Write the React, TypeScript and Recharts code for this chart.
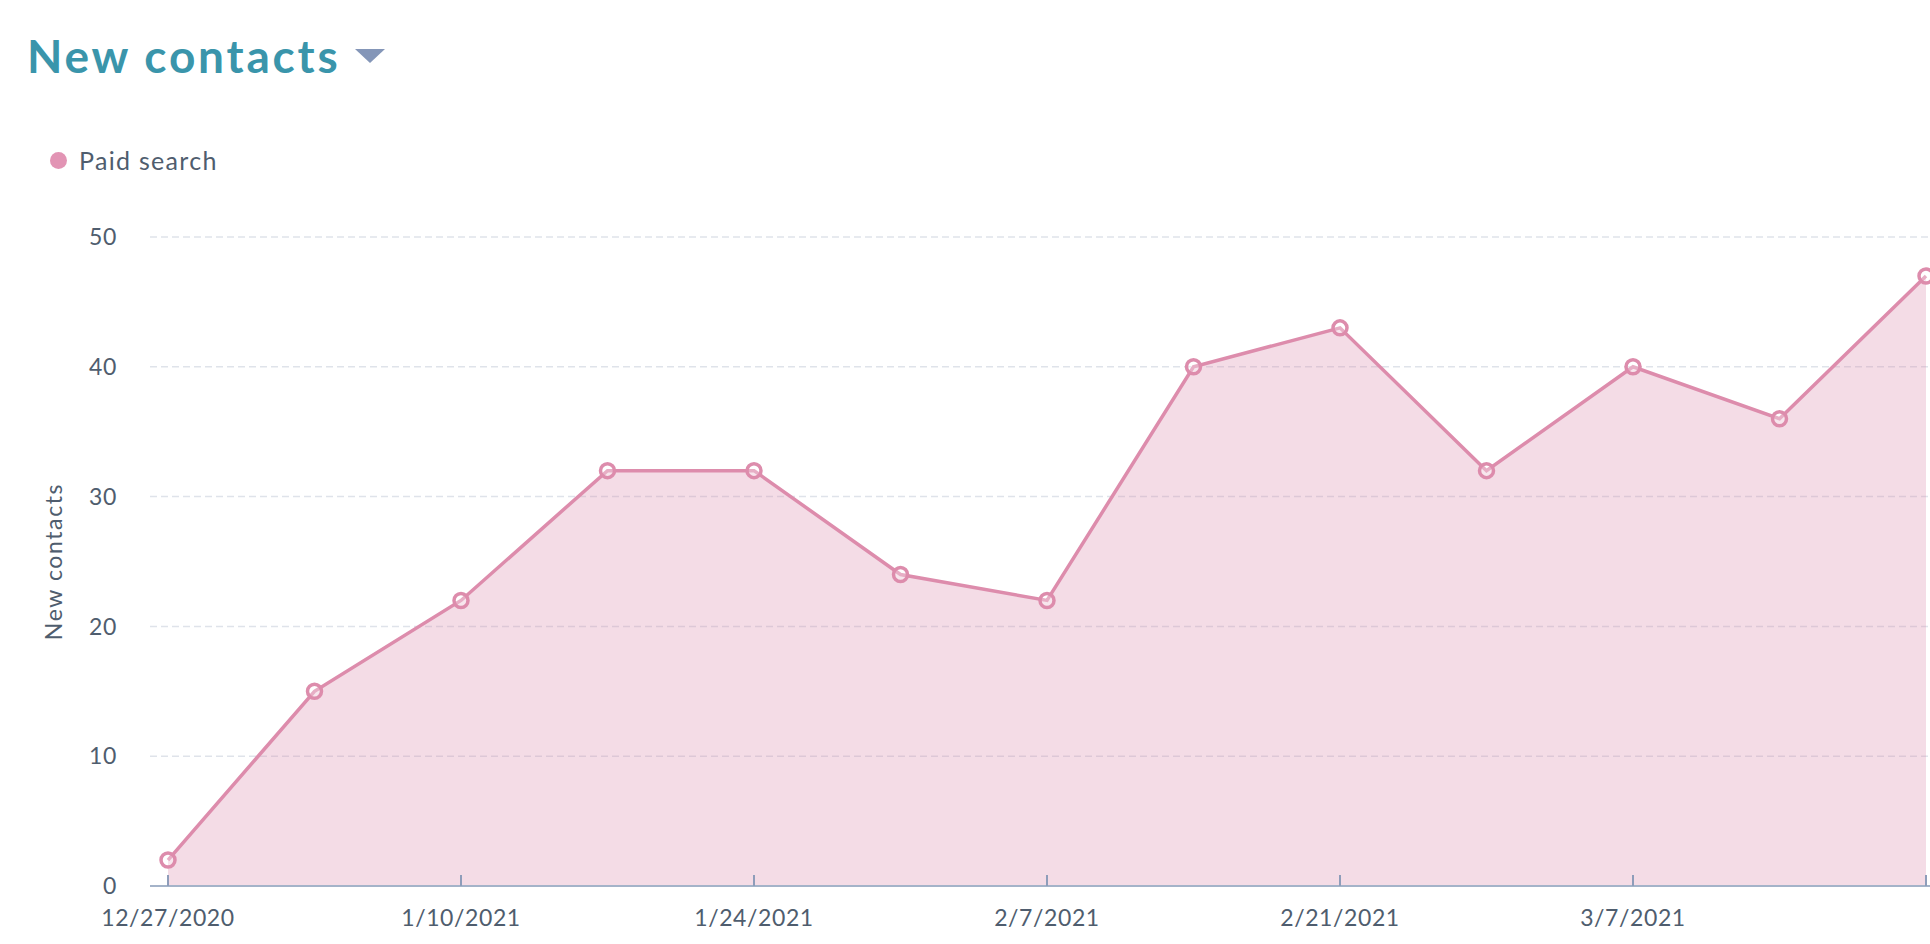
import React from 'react';
import {
  AreaChart,
  Area,
  XAxis,
  YAxis,
  CartesianGrid,
  Legend,
} from 'recharts';

// weekly buckets
const weeks = [
  '12/27/2020',
  '1/3/2021',
  '1/10/2021',
  '1/17/2021',
  '1/24/2021',
  '1/31/2021',
  '2/7/2021',
  '2/14/2021',
  '2/21/2021',
  '2/28/2021',
  '3/7/2021',
  '3/14/2021',
  '3/21/2021',
];
const paidSearch = [2, 15, 22, 32, 32, 24, 22, 40, 43, 32, 40, 36, 47];
const yTicks = [0, 10, 20, 30, 40, 50];

const PINK = '#dd8cac';
const TEXT = '#4f5d6e';
const FONT = 'Lato, sans-serif';

const chartData = weeks.map((week, i) => ({ week, paid: paidSearch[i] }));

// tick that points up into the plot, label below the axis
const DateTick = ({ x, y, payload }: any) => {
  const last = payload.value === weeks[weeks.length - 1];
  return (
    <g>
      <line x1={x} x2={x} y1={y} y2={y - 11} stroke="#8e9dba" strokeWidth={2} />
      {!last && (
        <text
          x={x}
          y={y + 31}
          textAnchor="middle"
          dominantBaseline="central"
          fill={TEXT}
          fontSize={23}
          fontFamily={FONT}
          letterSpacing={0.6}
        >
          {payload.value}
        </text>
      )}
    </g>
  );
};

const LegendContent = () => (
  <div style={{ display: 'flex', alignItems: 'center', fontFamily: FONT }}>
    <span
      style={{
        width: 17,
        height: 17,
        borderRadius: '50%',
        background: '#e294b4',
        display: 'inline-block',
        marginRight: 12,
      }}
    />
    <span style={{ fontSize: 25, letterSpacing: 1.3, color: TEXT }}>Paid search</span>
  </div>
);

export default function App() {
  return (
    <div
      style={{
        position: 'fixed',
        left: 0,
        top: 0,
        width: 1930,
        height: 944,
        background: '#fff',
        overflow: 'hidden',
      }}
    >
      <div
        style={{
          position: 'absolute',
          left: 27,
          top: 28,
          fontFamily: FONT,
          fontWeight: 700,
          fontSize: 46,
          letterSpacing: 2.8,
          color: '#3a95ab',
          display: 'flex',
          alignItems: 'center',
          whiteSpace: 'nowrap',
        }}
      >
        New contacts
        <svg width={32} height={16} style={{ marginLeft: 14, marginTop: 2 }}>
          <polygon points="0,0 30,0 15,14" fill="#8496b8" />
        </svg>
      </div>
      <AreaChart
        width={1930}
        height={944}
        data={chartData}
        margin={{ top: 237, right: 0, bottom: 18, left: 0 }}
      >
        <CartesianGrid
          vertical={false}
          stroke="#dfe3ea"
          strokeDasharray="7 4"
          strokeWidth={1.5}
        />
        <XAxis
          dataKey="week"
          interval={1}
          height={40}
          tickLine={false}
          tickSize={0}
          tickMargin={0}
          axisLine={{ stroke: '#a4b3c9', strokeWidth: 2 }}
          padding={{ left: 18, right: 4 }}
          tick={<DateTick />}
        />
        <YAxis
          width={150}
          domain={[0, 50]}
          ticks={yTicks}
          axisLine={false}
          tickLine={false}
          tickSize={0}
          tickMargin={33}
          tick={{ fill: TEXT, fontSize: 23, fontFamily: FONT, letterSpacing: 0.6 }}
          label={{
            value: 'New contacts',
            angle: -90,
            position: 'insideLeft',
            offset: 0,
            dx: 54,
            style: {
              textAnchor: 'middle',
              fill: TEXT,
              fontSize: 23,
              letterSpacing: 1.6,
              fontFamily: FONT,
            },
          }}
        />
        <Legend
          verticalAlign="middle"
          align="center"
          content={<LegendContent />}
          wrapperStyle={{ top: 145, left: 50, width: 'auto' }}
        />
        <Area
          type="linear"
          dataKey="paid"
          name="Paid search"
          stroke={PINK}
          strokeWidth={3.5}
          fill="#db8aab"
          fillOpacity={0.3}
          dot={{ r: 7, fill: '#fff', stroke: PINK, strokeWidth: 3.5 }}
          activeDot={false}
          isAnimationActive={false}
        />
      </AreaChart>
    </div>
  );
}
